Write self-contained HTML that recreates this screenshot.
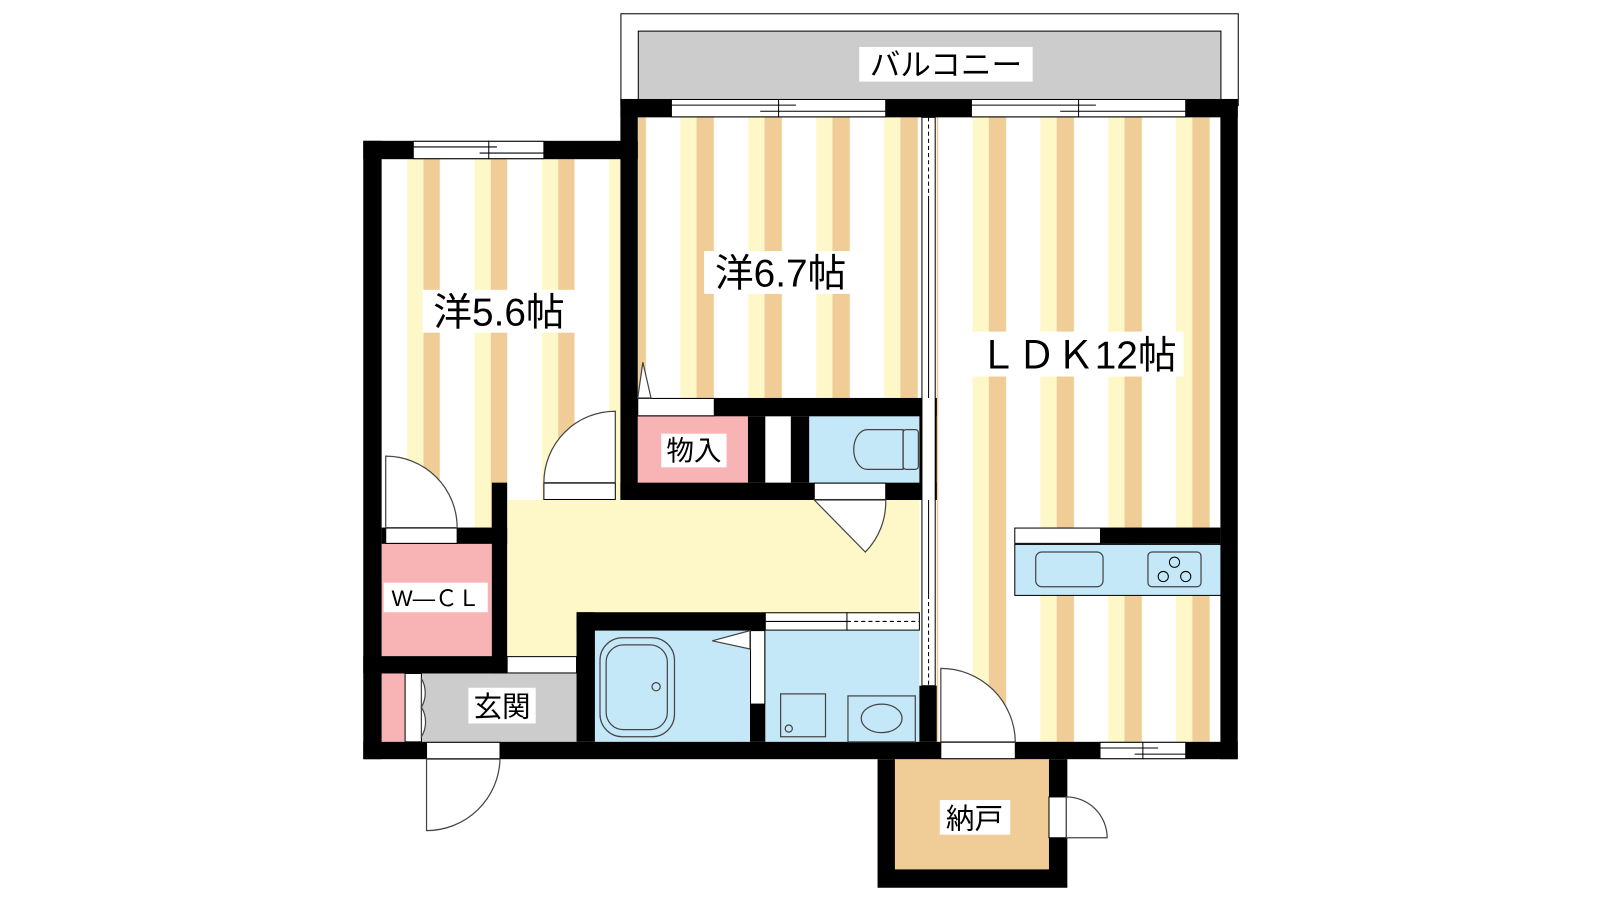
<!DOCTYPE html>
<html><head><meta charset="utf-8"><style>
html,body{margin:0;padding:0;background:#fff;width:1600px;height:900px;overflow:hidden}
svg{display:block}
text{font-family:"Liberation Sans","Noto Sans CJK JP",sans-serif;fill:#000}
</style></head><body>
<svg width="1600" height="900" viewBox="0 0 1568 882" xmlns="http://www.w3.org/2000/svg">
<defs>
<pattern id="s56" patternUnits="userSpaceOnUse" x="399" y="0" width="66" height="10"><rect width="66" height="10" fill="#fff"/><rect width="16" height="10" fill="#fef8c8"/><rect x="16" width="16" height="10" fill="#f0cc96"/></pattern>
<pattern id="s67" patternUnits="userSpaceOnUse" x="600" y="0" width="66.6" height="10"><rect width="66.6" height="10" fill="#fff"/><rect width="16" height="10" fill="#fef8c8"/><rect x="16" width="17" height="10" fill="#f0cc96"/></pattern>
<pattern id="sL" patternUnits="userSpaceOnUse" x="953" y="0" width="66.5" height="10"><rect width="66.5" height="10" fill="#fff"/><rect width="16" height="10" fill="#fef8c8"/><rect x="16" width="17" height="10" fill="#f0cc96"/></pattern>
</defs>
<!-- balcony -->
<rect x="608.5" y="13.5" width="605" height="90" fill="#fff" stroke="#000" stroke-width="1"/>
<rect x="625.5" y="30.5" width="571" height="70" fill="#cccccc" stroke="#000" stroke-width="1"/>
<rect x="842" y="46" width="170" height="34" fill="#fff"/>
<text x="927" y="74" font-size="30" text-anchor="middle">バルコニー</text>
<!-- room fills -->
<rect x="374" y="156" width="234" height="377" fill="url(#s56)"/>
<rect x="625" y="115" width="278" height="275" fill="url(#s67)"/>
<rect x="918" y="115" width="278" height="612" fill="url(#sL)"/>
<rect x="497" y="490" width="404" height="153" fill="#fef8c8"/>
<rect x="625" y="408" width="108" height="65" fill="#f8b4b4"/>
<rect x="750" y="408" width="25" height="65" fill="#fff"/>
<rect x="793" y="408" width="108" height="65" fill="#c4e8f8"/>
<rect x="374" y="533" width="108" height="110" fill="#f8b4b4"/>
<rect x="413" y="660" width="152" height="67" fill="#cccccc"/>
<rect x="374" y="660" width="23" height="67" fill="#f8b4b4"/>
<rect x="397" y="660" width="16" height="67" fill="#fff" stroke="#000" stroke-width="1"/>
<rect x="583" y="618" width="152" height="109" fill="#c4e8f8"/>
<rect x="750" y="618" width="151" height="109" fill="#c4e8f8"/>
<!-- walls -->
<g fill="#000">
<rect x="356" y="138" width="269" height="18"/>
<rect x="608" y="97" width="605" height="18"/>
<rect x="1196" y="97" width="17" height="647"/>
<rect x="356" y="138" width="18" height="606"/>
<rect x="356" y="727" width="857" height="17"/>
<rect x="608" y="97" width="17" height="393"/>
<rect x="625" y="390" width="293" height="18"/>
<rect x="608" y="473" width="310" height="17"/>
<rect x="733" y="408" width="17" height="65"/>
<rect x="775" y="408" width="18" height="65"/>
<rect x="901" y="390" width="17" height="100"/>
<rect x="482" y="473" width="15" height="187"/>
<rect x="374" y="517" width="123" height="16"/>
<rect x="356" y="643" width="141" height="17"/>
<rect x="565" y="600" width="185" height="18"/>
<rect x="565" y="600" width="18" height="127"/>
<rect x="735" y="618" width="15" height="109"/>
<rect x="901" y="672" width="17" height="55"/>
<rect x="1078" y="517" width="118" height="16"/>
<rect x="860" y="744" width="186" height="126"/>
</g>
<rect x="877" y="744" width="151" height="108" fill="#f0cc96"/>
<!-- windows / openings -->
<g fill="#fff" stroke="#000" stroke-width="1">
<rect x="658" y="97.5" width="210" height="17"/>
<rect x="952" y="97.5" width="210" height="17"/>
<rect x="405" y="138.5" width="128" height="17"/>
<rect x="1078" y="727.5" width="84" height="16"/>
<rect x="533" y="473.5" width="70" height="16"/>
<rect x="378" y="517.5" width="70" height="15"/>
<rect x="625" y="390.5" width="75" height="17"/>
<rect x="798" y="473.5" width="70" height="16"/>
<rect x="497" y="643.5" width="68" height="16"/>
<rect x="418" y="727.5" width="72" height="16"/>
<rect x="922" y="727.5" width="73" height="16"/>
<rect x="735.5" y="618" width="14" height="72"/>
<rect x="1028" y="781" width="17" height="40"/>
<rect x="750" y="600.5" width="151" height="17"/>
<rect x="903.5" y="115" width="13" height="557"/>
<rect x="994.5" y="517.5" width="84" height="15"/>
</g>
<g stroke="#000" stroke-width="1" fill="none">
<line x1="658" y1="103" x2="780" y2="103"/><line x1="745" y1="109" x2="868" y2="109"/><line x1="763" y1="97" x2="763" y2="115"/>
<line x1="952" y1="103" x2="1074" y2="103"/><line x1="1039" y1="109" x2="1162" y2="109"/><line x1="1057" y1="97" x2="1057" y2="115"/>
<line x1="405" y1="144" x2="487" y2="144"/><line x1="470" y1="150" x2="533" y2="150"/><line x1="479" y1="138" x2="479" y2="156"/>
<line x1="1078" y1="733" x2="1135" y2="733"/><line x1="1112" y1="739" x2="1162" y2="739"/><line x1="1120" y1="727" x2="1120" y2="744"/>
<line x1="910" y1="115" x2="910" y2="192" stroke-dasharray="4,3"/>
<line x1="910" y1="192" x2="910" y2="390"/>
<line x1="910" y1="490" x2="910" y2="583"/>
<line x1="910" y1="583" x2="910" y2="672" stroke-dasharray="4,3"/>
<line x1="830" y1="609" x2="901" y2="609" stroke-dasharray="4,3"/>
<line x1="750" y1="609" x2="830" y2="609"/>
<line x1="830" y1="600" x2="830" y2="618"/>
</g>
<!-- doors -->
<g stroke="#444" stroke-width="1.2" fill="#fff">
<path d="M603,473 L603,403 A70,70 0 0,0 533,473 Z"/>
<path d="M378,517 L378,447 A70,70 0 0,1 448,517 Z"/>
<path d="M798,490 L848,541 A70,70 0 0,0 868,490 Z"/>
<path d="M922,727 L922,655 A73,73 0 0,1 995,727 Z"/>
<path d="M418,744 L418,814 A72,72 0 0,0 490,744 Z"/>
<path d="M1045,821 L1085,821 A40,40 0 0,0 1045,781 Z"/>
<path d="M413,665 A28,28 0 0,1 413,693 Z"/>
<path d="M413,693 A28,28 0 0,1 413,722 Z"/>
<path d="M625,390 L630,355 L638,390 Z"/>
<path d="M735,618 L698,628 L735,636 Z"/>
</g>
<!-- kitchen -->
<rect x="994.5" y="533.5" width="202" height="50" fill="#c4e8f8" stroke="#000" stroke-width="1"/>
<rect x="1015" y="541" width="66" height="34" rx="6" fill="none" stroke="#444" stroke-width="1.2"/>
<rect x="1125" y="541" width="52" height="34" rx="4" fill="none" stroke="#444" stroke-width="1.2"/>
<g fill="none" stroke="#000" stroke-width="1"><circle cx="1151" cy="551" r="5"/><circle cx="1140" cy="565" r="5"/><circle cx="1162" cy="565" r="5"/></g>
<!-- toilet -->
<g fill="none" stroke="#444" stroke-width="1.2">
<path d="M885,421 L850,421 A13,19 0 0,0 850,460 L885,460 Z"/>
<rect x="885" y="421" width="15" height="39" rx="3"/>
<!-- bath -->
<rect x="588" y="625" width="73" height="97" rx="22"/>
<rect x="594" y="632" width="60" height="83" rx="17"/>
<circle cx="643" cy="673" r="4"/>
<rect x="765" y="680" width="44" height="42"/>
<circle cx="773" cy="714" r="3.5"/>
<rect x="831" y="682" width="66" height="45"/>
<ellipse cx="864" cy="704" rx="20" ry="14"/>
</g>
<!-- labels -->
<rect x="414" y="284" width="150" height="42" fill="#fff"/>
<text x="489" y="319" font-size="38" text-anchor="middle">洋5.6帖</text>
<rect x="690" y="246" width="150" height="42" fill="#fff"/>
<text x="765" y="281" font-size="38" text-anchor="middle">洋6.7帖</text>
<rect x="952" y="325" width="208" height="44" fill="#fff"/>
<text x="1056" y="361" font-size="38" text-anchor="middle">ＬＤＫ12帖</text>
<rect x="648" y="425" width="64" height="33" fill="#fff"/>
<text x="680" y="451" font-size="27" text-anchor="middle">物入</text>
<rect x="376" y="571" width="102" height="29" fill="#fff"/>
<text x="427" y="594" font-size="22" text-anchor="middle">W―ＣＬ</text>
<rect x="459" y="674" width="66" height="35" fill="#fff"/>
<text x="492" y="702" font-size="28" text-anchor="middle">玄関</text>
<rect x="921" y="784" width="69" height="34" fill="#fff"/>
<text x="955" y="812" font-size="28" text-anchor="middle">納戸</text>
</svg>
</body></html>
